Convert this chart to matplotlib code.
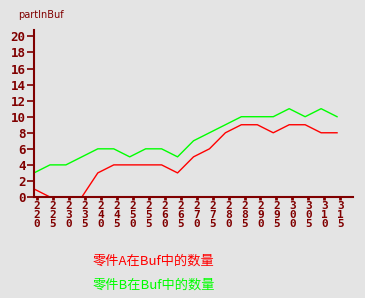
import numpy as np
import matplotlib.pyplot as plt

# x categories and series values
categories = ['220', '225', '230', '235', '240', '245', '250', '255', '260', '265',
              '270', '275', '280', '285', '290', '295', '300', '305', '310', '315']
part_a = [1, 0, 0, 0, 3, 4, 4, 4, 4, 3, 5, 6, 8, 9, 9, 8, 9, 9, 8, 8]
part_b = [3, 4, 4, 5, 6, 6, 5, 6, 6, 5, 7, 8, 9, 10, 10, 10, 11, 10, 11, 10]
y_ticks = list(range(0, 21, 2))

bg = '#e4e4e4'
axis_col = '#800000'

fig = plt.figure(figsize=(3.65, 2.98), dpi=100, facecolor=bg)
W, H = 365, 298
ax = fig.add_axes([34 / W, (H - 197) / H, (353 - 34) / W, (197 - 30) / H])
ax.set_facecolor(bg)

x = np.arange(len(categories))
ax.plot(x, part_a, color='#ff0000', lw=1)
ax.plot(x, part_b, color='#00ff00', lw=1)

ax.set_xlim(0, 20)
ax.set_ylim(0, 20.8)

for s in ['top', 'right']:
    ax.spines[s].set_visible(False)
for s in ['left', 'bottom']:
    ax.spines[s].set_color(axis_col)
    ax.spines[s].set_linewidth(1.5)

ax.set_yticks(y_ticks)
ax.set_yticklabels([str(v) for v in y_ticks], family='DejaVu Sans Mono',
                   fontweight='bold', fontsize=9, color=axis_col)
ax.tick_params(axis='y', length=5, width=1.2, color=axis_col, pad=1)

ax.set_xticks(x + 0.2)
ax.set_xticklabels(['\n'.join(c) for c in categories], family='DejaVu Sans Mono',
                   fontweight='bold', fontsize=8, color=axis_col, linespacing=0.85)
ax.tick_params(axis='x', length=2, width=2, color=axis_col, pad=1)

fig.text(18 / W, 1 - 15 / H, 'partInBuf', color=axis_col, fontsize=7,
         va='center', ha='left')

cjk = ['Noto Sans CJK SC', 'DejaVu Sans']
fig.text(93 / W, 1 - 261 / H, '零件A在Buf中的数量', color='#ff0000', fontsize=9.5,
         family=cjk, va='center', ha='left')
fig.text(93 / W, 1 - 285 / H, '零件B在Buf中的数量', color='#00ff00', fontsize=9.5,
         family=cjk, va='center', ha='left')

fig.savefig('out.png', dpi=100, facecolor=bg)
